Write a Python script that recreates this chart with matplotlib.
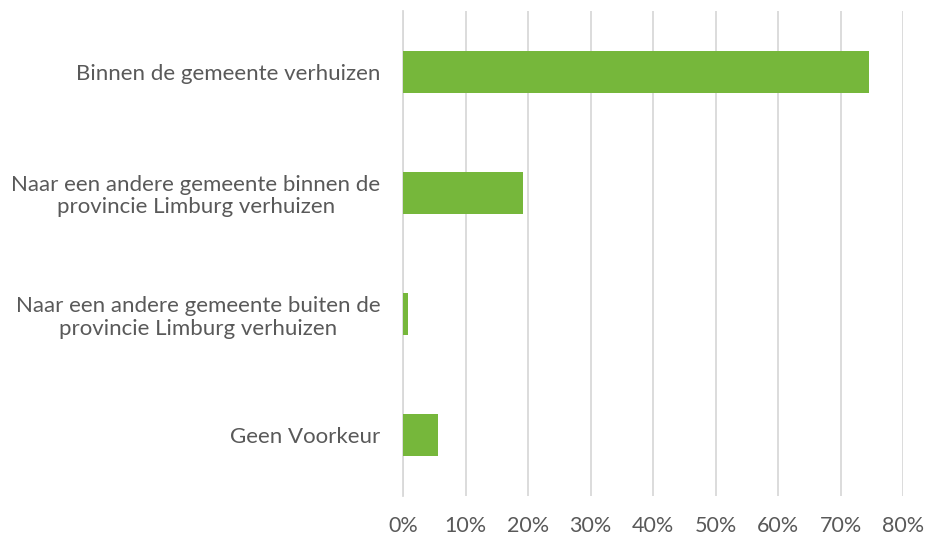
import matplotlib
matplotlib.use("Agg")
import matplotlib.pyplot as plt
from matplotlib.ticker import FuncFormatter

categories = [
    "Binnen de gemeente verhuizen",
    "Naar een andere gemeente binnen de\nprovincie Limburg verhuizen",
    "Naar een andere gemeente buiten de\nprovincie Limburg verhuizen",
    "Geen Voorkeur",
]
values = [74.6, 19.1, 0.8, 5.5]
xticks = [0, 10, 20, 30, 40, 50, 60, 70, 80]

plt.rcParams['font.family'] = ['Lato', 'DejaVu Sans']

fig = plt.figure(figsize=(9.26, 5.39), dpi=100)
ax = fig.add_axes([0.4355, 0.0798, 0.9752 - 0.4355, 0.9796 - 0.0798])

y = list(range(len(categories)))
ax.barh(y, values, height=0.346, color="#76B73B", zorder=3)
ax.set_ylim(len(categories) - 0.5, -0.5)
ax.set_xlim(0, 80)
ax.set_xticks(xticks)
ax.xaxis.set_major_formatter(FuncFormatter(lambda v, p: f"{int(v)}%"))
ax.set_yticks(y)
ax.set_yticklabels(categories, multialignment="center", linespacing=1.15)
ax.grid(axis="x", color="#d9d9d9", linewidth=1.3, zorder=0)
for s in ["top", "right", "bottom"]:
    ax.spines[s].set_visible(False)
ax.spines["left"].set_color("#d9d9d9")
ax.spines["left"].set_linewidth(1.3)
ax.tick_params(axis="y", length=0, labelsize=16, colors="#595959", pad=16.5)
ax.tick_params(axis="x", length=0, labelsize=15.5, colors="#595959", pad=14.5)

fig.savefig("out.png", dpi=100)
